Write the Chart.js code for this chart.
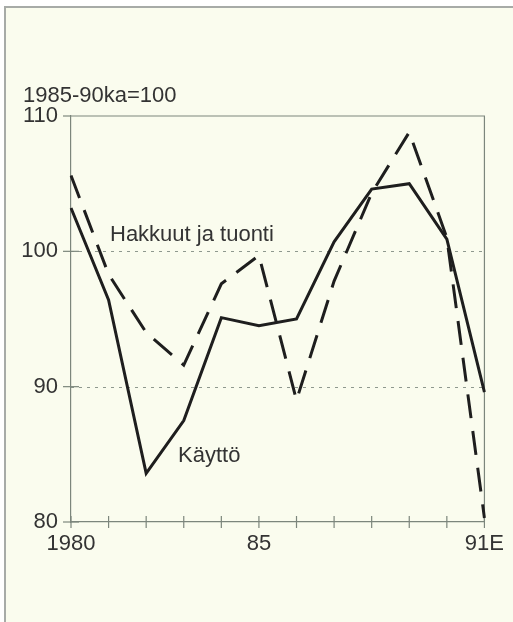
<!DOCTYPE html>
<html>
<head>
<meta charset="utf-8">
<script src="https://cdn.jsdelivr.net/npm/chart.js@4/dist/chart.umd.min.js"></script>
<style>
  html, body { margin: 0; padding: 0; background: #ffffff; }
  canvas { display: block; }
</style>
</head>
<body>
<canvas id="c" width="513" height="622"></canvas>
<script>
// ---- data ----
const years = ['1980','1981','1982','1983','1984','1985','1986','1987','1988','1989','1990','1991'];
const xTickLabels = ['1980','','','','','85','','','','','','91E'];
const kaytto  = [103.2, 96.4, 83.6, 87.5, 95.1, 94.5, 95.0, 100.7, 104.6, 105.0, 100.9, 89.6];
const hakkuut = [105.6, 98.3, 94.0, 91.6, 97.6, 99.7, 89.0, 97.8, 104.3, 108.8, 101.0, 80.3];
const yTicks = [80, 90, 100, 110];
const unitLabel = '1985-90ka=100';
const seriesNames = ['Käyttö', 'Hakkuut ja tuonti'];

const FONT = '"Liberation Sans", Arial, Helvetica, sans-serif';
const TEXT = '#333333';
const AXIS = '#7c867c';

const decor = {
  id: 'decor',
  beforeDraw(chart) {
    const ctx = chart.ctx;
    ctx.save();
    ctx.fillStyle = '#ffffff';
    ctx.fillRect(0, 0, chart.width, chart.height);
    ctx.fillStyle = '#fafcee';
    ctx.fillRect(5, 7, chart.width - 5, chart.height - 7);
    ctx.strokeStyle = '#a7aba7';
    ctx.lineWidth = 2;
    ctx.beginPath();
    ctx.moveTo(5, chart.height); ctx.lineTo(5, 7); ctx.lineTo(chart.width, 7);
    ctx.stroke();
    ctx.restore();
  },
  beforeDatasetsDraw(chart) {
    const ctx = chart.ctx;
    const xs = chart.scales.x, ys = chart.scales.y;
    const a = chart.chartArea;
    ctx.save();
    // dotted grid lines
    ctx.strokeStyle = '#8e988e';
    ctx.lineWidth = 1;
    ctx.setLineDash([3, 5]);
    [90, 100].forEach(v => {
      const y = Math.round(ys.getPixelForValue(v)) + 0.5;
      ctx.beginPath(); ctx.moveTo(a.left, y); ctx.lineTo(a.right, y); ctx.stroke();
    });
    ctx.setLineDash([]);
    // top and right frame lines
    ctx.strokeStyle = AXIS;
    ctx.lineWidth = 1.2;
    const yt = ys.getPixelForValue(110);
    ctx.beginPath();
    ctx.moveTo(a.left, yt); ctx.lineTo(a.right, yt); ctx.lineTo(a.right, a.bottom);
    ctx.stroke();
    // y ticks crossing axis
    yTicks.forEach(v => {
      const y = ys.getPixelForValue(v);
      ctx.beginPath(); ctx.moveTo(a.left - 8, y); ctx.lineTo(a.left + (v === 110 ? 0 : 8), y); ctx.stroke();
    });
    // x ticks crossing axis
    years.forEach((yr, i) => {
      const x = xs.getPixelForValue(i);
      ctx.beginPath(); ctx.moveTo(x, a.bottom - 6); ctx.lineTo(x, a.bottom + 6); ctx.stroke();
    });
    ctx.restore();
  },
  afterDraw(chart) {
    const ctx = chart.ctx;
    ctx.save();
    ctx.fillStyle = TEXT;
    ctx.font = '22px ' + FONT;
    ctx.textBaseline = 'alphabetic';
    ctx.textAlign = 'left';
    ctx.fillText(unitLabel, 23, 102);
    ctx.fillText(seriesNames[1], 110, 241);
    ctx.fillText(seriesNames[0], 178, 462);
    ctx.restore();
  }
};

new Chart(document.getElementById('c'), {
  type: 'line',
  data: {
    labels: years,
    datasets: [
      {
        label: seriesNames[0],
        data: kaytto,
        borderColor: '#1e1e1e',
        borderWidth: 3,
        pointRadius: 0,
        tension: 0,
        borderJoinStyle: 'miter',
        fill: false
      },
      {
        label: seriesNames[1],
        data: hakkuut,
        borderColor: '#1e1e1e',
        borderWidth: 3,
        borderDash: [24, 13],
        borderCapStyle: 'butt',
        pointRadius: 0,
        tension: 0,
        borderJoinStyle: 'miter',
        fill: false
      }
    ]
  },
  options: {
    responsive: false,
    devicePixelRatio: 1,
    animation: false,
    layout: { padding: { left: 0, right: 28, top: 116, bottom: 0 } },
    plugins: { legend: { display: false }, tooltip: { enabled: false }, title: { display: false } },
    scales: {
      x: {
        type: 'category',
        offset: false,
        grid: { display: false, drawTicks: false },
        border: { display: true, color: AXIS, width: 1.2 },
        ticks: {
          autoSkip: false, maxRotation: 0, minRotation: 0, padding: 9,
          color: TEXT, font: { family: FONT, size: 22 },
          callback: (v, i) => xTickLabels[i]
        },
        afterFit(s) { s.height = 100; }
      },
      y: {
        min: 80, max: 110,
        grid: { display: false, drawTicks: false },
        border: { display: true, color: AXIS, width: 1.2 },
        ticks: {
          stepSize: 10, padding: 13,
          color: TEXT, font: { family: FONT, size: 22 },
          callback: v => yTicks.includes(v) ? String(v) : ''
        },
        afterFit(s) { s.width = 71; }
      }
    }
  },
  plugins: [decor]
});
</script>
</body>
</html>
